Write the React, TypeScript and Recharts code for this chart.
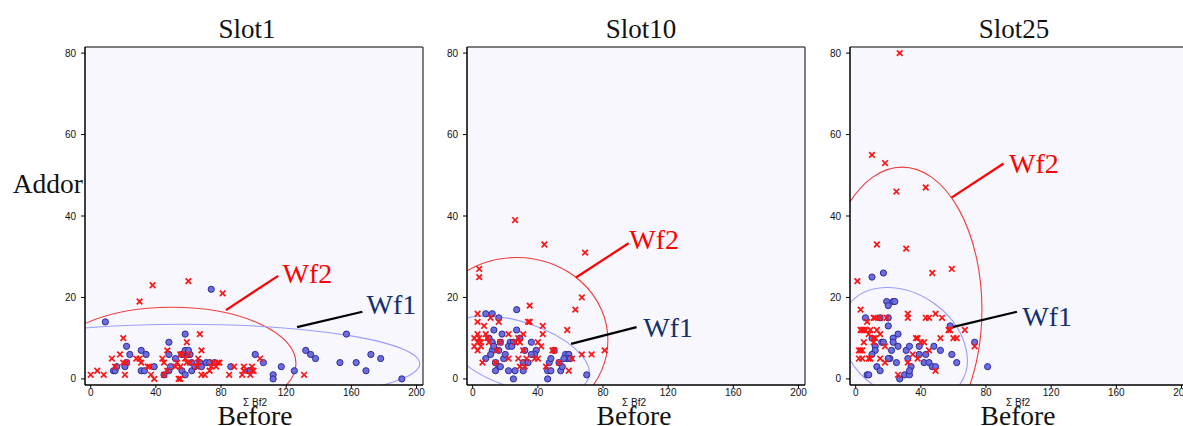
import { ScatterChart, Scatter, XAxis, YAxis, CartesianGrid, ReferenceArea, ReferenceLine, ReferenceDot } from 'recharts'

// point sets per slot: Wf2 = red crosses, Wf1 = blue circles
const slot1Wf2 = [
  [38, 23], [60, 24], [81, 21], [30, 19], [20, 10], [67, 11], [59, 9], [68, 7], [47, 7], [18, 6],
  [13, 5], [28, 5], [30, 5], [20, 4], [22, 4], [31, 4], [44, 5], [45, 4], [47, 2], [0, 1],
  [4, 2], [8, 1], [15, 3], [21, 1], [35, 3], [36, 3], [37, 1], [39, 0], [45, 1], [55, 6],
  [56, 6], [53, 4], [52, 3], [55, 3], [54, 0], [55, 0], [58, 5], [59, 4], [61, 4], [66, 4],
  [65, 3], [66, 5], [68, 1], [70, 1], [73, 2], [74, 3], [75, 4], [77, 3], [78, 4], [79, 4],
  [85, 1], [88, 3], [94, 3], [94, 2], [93, 1], [98, 1], [99, 3], [99, 2], [100, 2], [104, 5],
  [131, 1], [60, 6],
]
const slot1Wf1 = [
  [9, 14], [74, 22], [157, 11], [58, 11], [48, 9], [22, 8], [31, 7], [24, 6], [34, 6], [48, 6],
  [56, 6], [60, 6], [61, 6], [58, 7], [60, 7], [101, 6], [132, 7], [135, 6], [138, 5], [172, 6],
  [178, 5], [153, 4], [163, 4], [169, 2], [191, 0], [106, 4], [117, 3], [112, 1], [112, 0], [125, 2],
  [14, 2], [15, 2], [16, 3], [22, 4], [21, 3], [31, 2], [33, 2], [39, 3], [45, 1], [48, 2],
  [49, 3], [52, 5], [56, 2], [58, 1], [62, 2], [62, 4], [64, 3], [67, 4], [68, 3], [71, 4],
  [73, 4], [76, 4], [86, 3], [97, 2], [98, 2],
]

const slot10Wf2 = [
  [26, 39], [44, 33], [69, 31], [4, 27], [4, 25], [67, 20], [35, 18], [63, 17], [3, 16], [11, 15],
  [16, 14], [3, 14], [34, 14], [35, 14], [43, 13], [7, 13], [58, 12], [3, 11], [8, 11], [22, 11],
  [31, 11], [43, 11], [1, 10], [4, 10], [9, 10], [28, 10], [3, 9], [5, 9], [10, 9], [17, 9],
  [26, 9], [29, 9], [40, 9], [1, 8], [5, 8], [42, 8], [3, 7], [15, 7], [31, 7], [49, 7],
  [50, 7], [81, 7], [67, 6], [73, 6], [6, 4], [14, 4], [22, 5], [28, 5], [33, 5], [38, 5],
  [40, 5], [61, 5], [29, 3], [32, 3], [45, 3], [53, 4], [59, 2],
]
const slot10Wf1 = [
  [27, 17], [8, 16], [12, 16], [16, 15], [13, 12], [18, 11], [27, 12], [10, 10], [12, 9], [23, 9],
  [25, 9], [29, 10], [36, 9], [22, 8], [24, 8], [12, 7], [16, 7], [11, 6], [32, 7], [39, 7],
  [38, 6], [36, 6], [50, 7], [57, 6], [59, 6], [58, 5], [56, 5], [60, 5], [8, 5], [19, 5],
  [47, 4], [48, 5], [31, 4], [34, 4], [16, 3], [17, 3], [14, 2], [22, 2], [26, 2], [31, 2],
  [46, 2], [48, 2], [54, 2], [55, 3], [70, 1], [25, 0], [46, 0], [14, 4], [20, 6], [13, 8],
  [53, 4], [17, 9],
]

const slot25Wf2 = [
  [27, 80], [10, 55], [18, 53], [25, 46], [43, 47], [13, 33], [31, 32], [47, 26], [59, 27], [1, 24],
  [3, 17], [11, 15], [12, 15], [15, 15], [19, 15], [32, 16], [32, 15], [43, 15], [45, 15], [49, 16],
  [53, 15], [7, 14], [3, 12], [4, 12], [5, 12], [6, 12], [9, 12], [13, 12], [57, 12], [58, 12],
  [67, 12], [8, 11], [15, 11], [11, 10], [12, 10], [5, 9], [11, 9], [37, 10], [38, 10], [40, 9],
  [42, 9], [52, 10], [60, 10], [62, 10], [18, 8], [73, 8], [2, 7], [3, 7], [4, 7], [2, 5],
  [4, 5], [8, 5], [9, 5], [15, 5], [18, 4], [32, 4], [35, 6], [38, 5], [45, 7], [49, 2],
  [26, 1],
]
const slot25Wf1 = [
  [10, 25], [17, 26], [19, 19], [20, 18], [23, 19], [24, 19], [6, 15], [15, 15], [20, 15], [20, 13],
  [58, 13], [26, 11], [10, 10], [16, 9], [17, 9], [23, 10], [23, 9], [26, 8], [31, 7], [33, 8],
  [39, 8], [48, 8], [52, 7], [73, 9], [12, 8], [12, 7], [22, 7], [21, 5], [20, 5], [32, 5],
  [39, 6], [43, 6], [59, 6], [42, 4], [45, 4], [62, 4], [34, 3], [47, 3], [49, 3], [13, 3],
  [15, 2], [25, 4], [7, 1], [8, 1], [27, 0], [30, 1], [33, 1], [33, 2], [81, 3], [10, 6],
]

// ellipses: centre, half-widths in data units, tilt in degrees
const slot1Ellipses = [
  { cx: 50, cy: 3.8, rx: 76, ry: 13.8, tilt: 0, color: '#f03c3c' },
  { cx: 58, cy: 3.7, rx: 144, ry: 9.7, tilt: 0, color: '#9c9cff' },
]
const slot10Ellipses = [
  { cx: 27, cy: 9.5, rx: 56, ry: 20.3, tilt: 0, color: '#f03c3c' },
  { cx: 28, cy: 5.9, rx: 45.4, ry: 8.1, tilt: 18, color: '#9c9cff' },
]
const slot25Ellipses = [
  { cx: 28.5, cy: 17, rx: 49, ry: 35, tilt: 0, color: '#f03c3c' },
  { cx: 29.8, cy: 8.4, rx: 41.9, ry: 12.5, tilt: 35, color: '#9c9cff' },
]

// callouts: leader line from/to and text anchor (baseline, left)
const slot1Notes = [
  { text: 'Wf2', from: [83, 16.9], to: [115.1, 25.3], at: [117.8, 23.6], line: '#ff0000', color: '#ff0000' },
  { text: 'Wf1', from: [126.7, 12.7], to: [166.8, 16.5], at: [169.3, 15.9], line: '#000000', color: '#13306a' },
]
const slot10Notes = [
  { text: 'Wf2', from: [63.4, 24.9], to: [95.7, 33.3], at: [96.1, 31.8], line: '#ff0000', color: '#ff0000' },
  { text: 'Wf1', from: [60.4, 8.6], to: [100.6, 12.7], at: [104.7, 10.2], line: '#000000', color: '#13306a' },
]
const slot25Notes = [
  { text: 'Wf2', from: [58.8, 44.5], to: [90.8, 52.9], at: [94.1, 50.6], line: '#ff0000', color: '#ff0000' },
  { text: 'Wf1', from: [59.4, 12.7], to: [99, 16.5], at: [102.3, 13], line: '#000000', color: '#13306a' },
]

const X_DOMAIN: [number, number] = [-3.5, 204]
const Y_DOMAIN: [number, number] = [-1.5, 81.5]
const X_TICKS = [0, 40, 80, 120, 160, 200]
const Y_TICKS = [0, 20, 40, 60, 80]

const SERIF = "'Liberation Serif', 'Times New Roman', serif"
const SANS = "'Liberation Sans', Arial, sans-serif"

const toPts = (a: number[][]) => a.map(([x, y]) => ({ x, y }))

const Cross = (p: any) => {
  const { cx, cy } = p
  const s = 2.8
  return (
    <path
      d={`M${cx - s},${cy - s}L${cx + s},${cy + s}M${cx - s},${cy + s}L${cx + s},${cy - s}`}
      stroke="#ff1414"
      strokeWidth={1.7}
      fill="none"
    />
  )
}

const Dot = (p: any) => (
  <circle cx={p.cx} cy={p.cy} r={3.1} fill="#6d6ddd" stroke="#2b2b9c" strokeWidth={1} />
)

const ellipseShape = (color: string, tilt: number) => (p: any) => {
  const cx = p.x + p.width / 2
  const cy = p.y + p.height / 2
  return (
    <g clipPath={p.clipPath}>
      <ellipse
        cx={cx}
        cy={cy}
        rx={p.width / 2}
        ry={p.height / 2}
        transform={`rotate(${tilt} ${cx} ${cy})`}
        fill="none"
        stroke={color}
        strokeWidth={1.1}
      />
    </g>
  )
}

const noteShape = (text: string, color: string) => (p: any) => (
  <text x={p.cx} y={p.cy} fill={color} fontFamily={SERIF} fontSize={28}>
    {text}
  </text>
)

interface PanelProps {
  left: number
  wf1: number[][]
  wf2: number[][]
  ellipses: typeof slot1Ellipses
  notes: typeof slot1Notes
}

const Panel = ({ left, wf1, wf2, ellipses, notes }: PanelProps) => (
  <div style={{ position: 'absolute', left, top: 0 }}>
    <ScatterChart width={418} height={426} margin={{ top: 47, right: 20, left: 0, bottom: 0 }}>
      <CartesianGrid horizontal={false} vertical={false} fill="#f7f7fd" />
      <XAxis
        type="number"
        dataKey="x"
        domain={X_DOMAIN}
        ticks={X_TICKS}
        allowDataOverflow
        height={41}
        tickSize={3}
        tickMargin={1}
        tick={{ fontSize: 10, fill: '#111', fontFamily: SANS }}
        axisLine={{ stroke: '#000', strokeWidth: 1.5 }}
        tickLine={{ stroke: '#000' }}
      />
      <YAxis
        type="number"
        dataKey="y"
        domain={Y_DOMAIN}
        ticks={Y_TICKS}
        allowDataOverflow
        width={60}
        tickSize={4}
        tickMargin={5}
        tick={{ fontSize: 10, fill: '#111', fontFamily: SANS }}
        axisLine={{ stroke: '#000', strokeWidth: 1.5 }}
        tickLine={{ stroke: '#000' }}
      />
      <ReferenceLine y={Y_DOMAIN[1]} stroke="#555" strokeWidth={1.5} ifOverflow="visible" />
      <ReferenceLine x={X_DOMAIN[1]} stroke="#555" strokeWidth={1.5} ifOverflow="visible" />
      {ellipses.map((e, i) => (
        <ReferenceArea
          key={`e${i}`}
          x1={e.cx - e.rx}
          x2={e.cx + e.rx}
          y1={e.cy - e.ry}
          y2={e.cy + e.ry}
          ifOverflow="hidden"
          shape={ellipseShape(e.color, e.tilt)}
        />
      ))}
      <Scatter data={toPts(wf1)} shape={Dot} isAnimationActive={false} />
      <Scatter data={toPts(wf2)} shape={Cross} isAnimationActive={false} />
      {notes.map((n, i) => (
        <ReferenceLine
          key={`l${i}`}
          segment={[{ x: n.from[0], y: n.from[1] }, { x: n.to[0], y: n.to[1] }]}
          stroke={n.line}
          strokeWidth={2.2}
          ifOverflow="visible"
        />
      ))}
      {notes.map((n, i) => (
        <ReferenceDot key={`t${i}`} x={n.at[0]} y={n.at[1]} r={1} ifOverflow="visible" shape={noteShape(n.text, n.color)} />
      ))}
    </ScatterChart>
  </div>
)

const titles = [
  { text: 'Slot1', x: 247 },
  { text: 'Slot10', x: 641 },
  { text: 'Slot25', x: 1014 },
]
const xTitleCenters = [255, 634, 1018]

export default function App() {
  return (
    <div style={{ position: 'absolute', left: 0, top: 0, width: 1183, height: 426, overflow: 'hidden', background: '#fff' }}>
      <Panel left={25} wf1={slot1Wf1} wf2={slot1Wf2} ellipses={slot1Ellipses} notes={slot1Notes} />
      <Panel left={407} wf1={slot10Wf1} wf2={slot10Wf2} ellipses={slot10Ellipses} notes={slot10Notes} />
      <Panel left={790} wf1={slot25Wf1} wf2={slot25Wf2} ellipses={slot25Ellipses} notes={slot25Notes} />
      <svg width={1183} height={426} style={{ position: 'absolute', left: 0, top: 0, pointerEvents: 'none' }}>
        <text x={12.7} y={192.7} fontFamily={SERIF} fontSize={27.5} fill="#111">Addor</text>
        {titles.map((t) => (
          <text key={t.text} x={t.x} y={38.3} textAnchor="middle" fontFamily={SERIF} fontSize={27} fill="#111">
            {t.text}
          </text>
        ))}
        {xTitleCenters.map((x) => (
          <g key={x}>
            <text x={x} y={406} textAnchor="middle" fontFamily={SANS} fontSize={10} fill="#111">Σ Bf2</text>
            <text x={x} y={425} textAnchor="middle" fontFamily={SERIF} fontSize={27.5} fill="#111">Before</text>
          </g>
        ))}
      </svg>
    </div>
  )
}
